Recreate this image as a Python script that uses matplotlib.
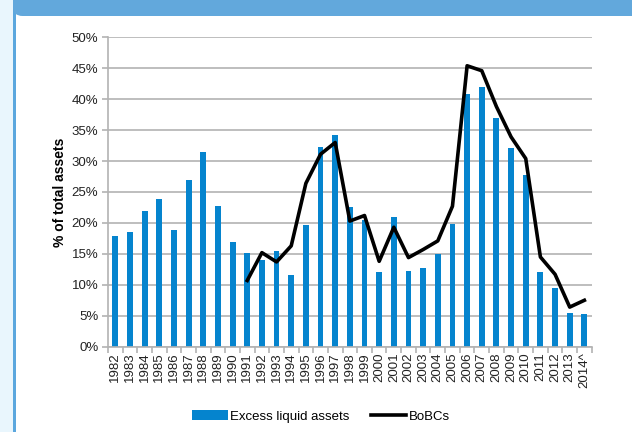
import numpy as np
import matplotlib.pyplot as plt
from matplotlib.patches import Rectangle, FancyBboxPatch

plt.rcParams['font.family'] = ['Liberation Sans', 'DejaVu Sans']

years = [str(y) for y in range(1982, 2014)] + ['2014^']
excess_liquid = [17.9, 18.5, 21.9, 23.9, 18.9, 26.9, 31.4, 22.8, 17.0, 15.1,
                 14.0, 15.5, 11.6, 19.7, 32.3, 34.2, 22.5, 20.4, 12.0, 21.0,
                 12.3, 12.7, 15.0, 19.9, 40.9, 42.0, 36.9, 32.1, 27.7, 12.1,
                 9.5, 5.4, 5.3]
bobc_years = years[9:]  # 1991 onwards
bobcs = [10.7, 15.2, 13.7, 16.3, 26.4, 31.1, 33.0, 20.3, 21.2, 13.8,
         19.3, 14.4, 15.7, 17.1, 22.7, 45.4, 44.6, 38.8, 33.9, 30.4,
         14.5, 11.7, 6.4, 7.5]

fig = plt.figure(figsize=(6.32, 4.32), dpi=100)
W, H = 632, 432

# page furniture: side strip, border and header band
fig.patches.append(Rectangle((0, 0), 13 / W, 1, transform=fig.transFigure,
                             facecolor='#e9f6fd', edgecolor='none', zorder=0))
fig.patches.append(Rectangle((13 / W, 0), 2.5 / W, 1, transform=fig.transFigure,
                             facecolor='#5ba7de', edgecolor='none', zorder=1))
fig.patches.append(FancyBboxPatch((13 / W, 1 - 16 / H), 1, 0.2,
                                  boxstyle='round,pad=0,rounding_size=0.015',
                                  transform=fig.transFigure, mutation_aspect=W / H,
                                  facecolor='#62a8dc', edgecolor='none', zorder=1))

ax = fig.add_axes([108 / W, 1 - 346.7 / H, (591.7 - 108) / W, (346.7 - 37.3) / H])
x = np.arange(len(years))
bars = ax.bar(x, excess_liquid, width=0.4, color='#0584ce', label='Excess liquid assets', zorder=2)
xl = np.arange(len(years) - len(bobc_years), len(years))
line, = ax.plot(xl, bobcs, color='black', lw=2.6, label='BoBCs', zorder=3)

ax.set_xlim(-0.5, len(years) - 0.5)
ax.set_ylim(0, 50)
ax.set_yticks(np.arange(0, 51, 5))
ax.set_yticklabels([f'{v}%' for v in range(0, 51, 5)], fontsize=9.5, color='#222222')
ax.yaxis.grid(True, color='#b3b3b3', lw=1.2, zorder=0)
ax.set_axisbelow(True)

ax.set_xticks(x)
ax.set_xticklabels(years, rotation=90, fontsize=9.5, color='#222222')
ax.tick_params(axis='x', length=0, pad=4)
ax.set_xticks(np.arange(-0.5, len(years), 1), minor=True)
ax.tick_params(axis='x', which='minor', length=4, color='#b3b3b3', width=1.2)
ax.tick_params(axis='y', length=4, color='#b3b3b3', width=1.2, pad=3)

for s in ['top', 'right']:
    ax.spines[s].set_visible(False)
for s in ['left', 'bottom']:
    ax.spines[s].set_color('#b3b3b3')
    ax.spines[s].set_linewidth(1.2)

ax.set_ylabel('% of total assets', fontsize=10, fontweight='bold', labelpad=3)

fig.legend(handles=[bars, line], loc='center', bbox_to_anchor=(321 / W, 1 - 416.5 / H),
           ncol=2, frameon=False, fontsize=9.5, handlelength=2.7, handletextpad=0.2,
           columnspacing=1.6)

fig.savefig('out.png', dpi=100)
